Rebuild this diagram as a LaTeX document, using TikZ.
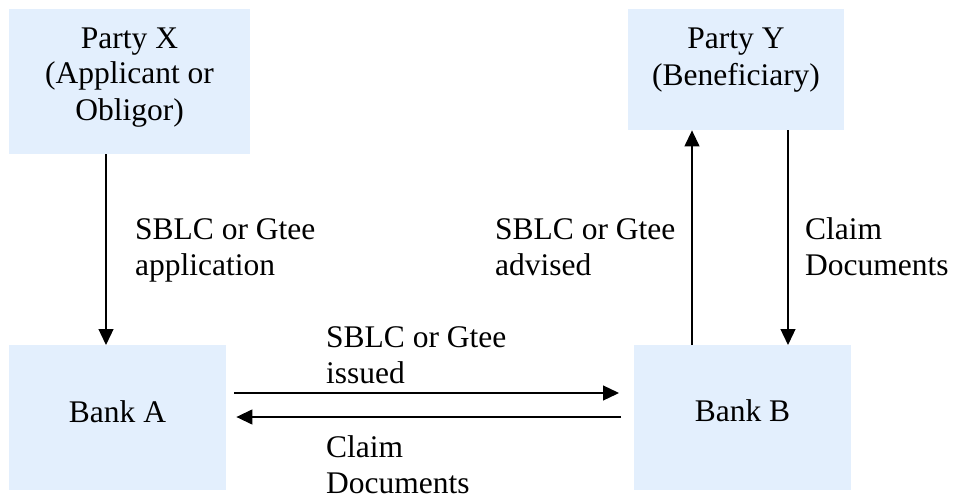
\documentclass[tikz,border=0pt]{standalone}
\usepackage{fontspec}
\setmainfont{Liberation Serif}
\usetikzlibrary{arrows.meta}
\definecolor{boxfill}{RGB}{227,239,253}
\begin{document}
\begin{tikzpicture}[x=1pt,y=-1pt,
  box/.style={rectangle, fill=boxfill, draw=none, inner sep=0pt, anchor=north west},
  txt/.style={font=\fontsize{31.5}{36}\selectfont, inner sep=0pt},
  arr/.style={line width=1.3pt, -{Triangle[length=16pt,width=15pt]}}]
\useasboundingbox (0,0) rectangle (956,495);
% boxes
\node[box, minimum width=241pt, minimum height=145pt] (partyX) at (9,9) {};
\node[box, minimum width=216pt, minimum height=121pt] (partyY) at (628,9) {};
\node[box, minimum width=217pt, minimum height=145pt] (bankA) at (9,345) {};
\node[box, minimum width=217pt, minimum height=145pt] (bankB) at (634,345) {};
% box texts (anchor base = baseline of last line)
\node[txt, align=center, anchor=base] (tX) at (129.5,120) {Party X\\(Applicant or\\Obligor)};
\node[txt, align=center, anchor=base] (tY) at (736,85) {Party Y\\(Beneficiary)};
\node[txt, anchor=base] (tA) at (117.5,422) {Bank A};
\node[txt, anchor=base] (tB) at (742.5,421) {Bank B};
% connectors
\draw[arr] (partyX.south -| 106,0) -- (bankA.north -| 106,0);
\draw[arr] (bankB.north -| 692,0) -- (partyY.south -| 692,0);
\draw[arr] (partyY.south -| 788,0) -- (bankB.north -| 788,0);
\draw[arr, shorten <=8pt, shorten >=15pt] (bankA.east |- 0,393) -- (bankB.west |- 0,393);
\draw[arr, shorten <=13pt, shorten >=10pt] (bankB.west |- 0,417) -- (bankA.east |- 0,417);
% labels
\node[txt, align=left, anchor=base west] (l1) at (135,275) {SBLC or Gtee\\application};
\node[txt, align=left, anchor=base west] (l2) at (495,275) {SBLC or Gtee\\advised};
\node[txt, align=left, anchor=base west] (l3) at (805,275) {Claim\\Documents};
\node[txt, align=left, anchor=base west] (l4) at (326,383) {SBLC or Gtee\\issued};
\node[txt, align=left, anchor=base west] (l5) at (326,493) {Claim\\Documents};
\end{tikzpicture}
\end{document}
